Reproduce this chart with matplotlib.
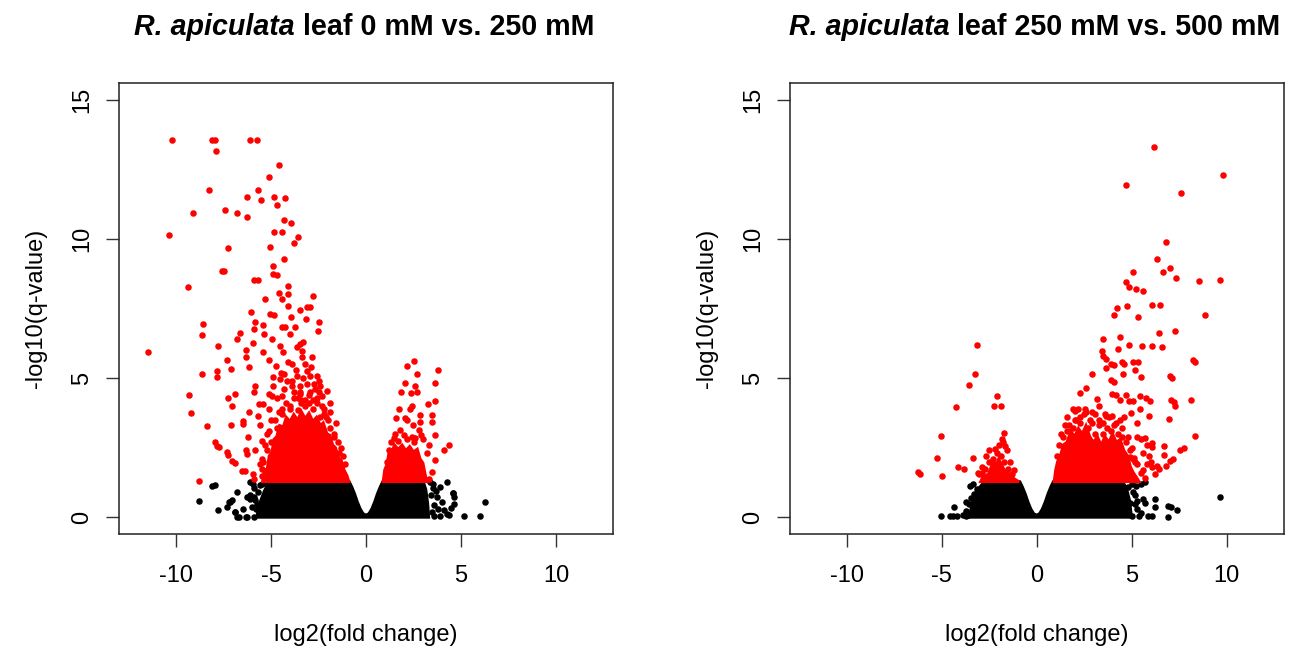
import matplotlib
matplotlib.use("Agg")
import matplotlib.pyplot as plt

plt.rcParams['font.family'] = ['Liberation Sans', 'DejaVu Sans']
plt.rcParams['axes.unicode_minus'] = False

RED = "#ff0000"
BLACK = "#000000"

# ---------------- panel 1: leaf 0 mM vs. 250 mM ----------------
# dense black cloud (non-significant), outline
p1_black_core_x = [-5.75, -5.6, -5.35, -5.1, -0.88, -0.75, -0.6, -0.45, -0.3, -0.15, 0.0,
                   0.15, 0.3, 0.45, 0.6, 0.75, 0.88, 3.02, 3.15, 3.25, 3.3]
p1_black_core_y = [0.0, 0.5, 0.95, 1.28, 1.28, 1.1, 0.85, 0.55, 0.3, 0.13, 0.08,
                   0.13, 0.3, 0.55, 0.85, 1.1, 1.28, 1.28, 1.0, 0.5, 0.0]
# dense red clouds (significant)
p1_red_core_l_x = [-5.45, -5.35, -5.2, -5.1, -4.95, -4.85, -4.7, -4.55, -4.35, -4.2, -4.0,
                   -3.8, -3.6, -3.4, -3.2, -3.0, -2.8, -2.6, -2.4, -2.25, -2.05, -1.9, -1.75,
                   -1.6, -1.45, -1.3, -1.15, -1.0, -0.9]
p1_red_core_l_y = [1.28, 1.6, 1.75, 2.2, 2.35, 2.8, 2.9, 3.3, 3.25, 3.6, 3.45,
                   3.7, 3.5, 3.8, 3.55, 3.75, 3.45, 3.6, 3.3, 3.4, 3.0, 2.95, 2.6,
                   2.5, 2.15, 2.05, 1.7, 1.5, 1.28]
p1_red_core_r_x = [0.9, 0.98, 1.1, 1.2, 1.35, 1.5, 1.7, 1.9, 2.1, 2.3, 2.5, 2.7, 2.85, 3.0,
                   3.1, 3.2]
p1_red_core_r_y = [1.28, 1.7, 1.9, 2.3, 2.35, 2.6, 2.45, 2.6, 2.4, 2.55, 2.35, 2.45, 2.1, 1.95,
                   1.6, 1.28]

p1_red_x = [-10.23, -8.12, -7.94, -6.10, -5.75, -7.87, -4.57, -5.13, -8.28, -5.68, -6.24, -5.52,
            -4.83, -4.27, -4.66, -7.40, -9.12, -6.80, -6.24, -4.29, -3.95, -10.37, -4.83, -4.43,
            -3.57, -3.81, -5.06, -7.24, -4.29, -4.90, -4.90, -4.69, -7.56, -7.47, -5.92, -5.66,
            -9.35, -4.08, -4.57, -4.08, -4.43, -2.79, -5.31, -4.11, -3.11, -2.93, -3.50, -6.06,
            -5.04, -4.83, -3.97, -3.15, -2.48, -5.83, -8.58, -5.40, -4.43, -4.25, -3.73, -5.92,
            -4.02, -6.63, -5.36, -2.55, -8.65, -6.80, -4.96, -3.46, -3.32, -5.96, -3.64, -7.80,
            -4.52, -11.46, -6.31, -6.31, -5.43, -4.38, -3.39, -3.39, -2.86, -7.33, -5.13, -4.08,
            -3.90, -4.73, -6.15, -7.08, -3.22, -7.86, -7.86, -8.65, -4.34, -3.11, -4.90, -3.64,
            -2.97, -2.58, -4.52, -4.17, -5.83, -4.87, -3.46, -2.41, -2.76, -2.93, -5.89, -5.13,
            -4.96, -4.43, -3.81, -3.46, -2.06, -9.30, -6.92, -7.24, -5.61, -5.43, -7.06, -5.13,
            -9.21, -6.15, -1.88, -5.66, -6.45, -6.49, -5.57, -7.10, -8.35, -6.19, -5.22, -7.94,
            -7.86, -7.73, -5.48, -6.34, -6.26, -5.83, -7.33, -7.24, -7.06, -6.89, -5.48, -5.40,
            -6.54, -6.36, -5.48, -5.31, -8.81, -5.96, -5.92,
            -3.6, -3.2, -2.6, -2.3, -4.0, -4.4, -2.0, -1.7, -1.5, -1.2, -5.2, -5.0, -4.7, -3.0,
            -2.5, -3.9, -1.9, -2.2, -1.4, -1.1, -5.5, -4.9, -3.4, -2.8,
            -4.8, -4.6, -4.4, -4.2, -4.0, -3.8, -3.6, -3.4, -3.2, -3.0, -2.8, -2.6, -2.4, -2.2,
            -4.7, -4.3, -3.9, -3.5, -3.1, -2.7, -2.3, -5.1, -5.3, -4.5, -3.7, -3.3, -2.9, -2.5,
            -2.1, -1.9, -1.7, -1.6, -1.3, -5.6, -5.0,
            2.16, 2.51, 3.79, 2.68, 2.05, 3.63, 2.56, 1.84, 2.37, 2.68, 3.61, 3.24, 2.42, 2.29,
            1.75, 2.86, 3.47, 1.59, 2.03, 2.16, 2.86, 3.47, 2.47, 1.81, 2.77, 3.61, 1.54, 1.45,
            1.98, 2.16, 2.42, 2.51, 4.35, 4.08, 3.61, 3.47, 3.33, 1.3, 1.2, 3.0, 3.2, 2.9, 3.3,
            1.1, 1.7, 2.6]
p1_red_y = [13.56, 13.56, 13.56, 13.56, 13.56, 13.14, 12.65, 12.22, 11.75, 11.75, 11.52, 11.41,
            11.52, 11.47, 11.20, 11.05, 10.93, 10.93, 10.78, 10.67, 10.57, 10.14, 10.24, 10.24,
            10.08, 9.87, 9.72, 9.66, 9.28, 9.03, 8.74, 8.71, 8.83, 8.86, 8.54, 8.54,
            8.28, 8.32, 8.07, 8.02, 7.84, 7.95, 7.84, 7.58, 7.54, 7.54, 7.43, 7.38,
            7.31, 7.25, 7.21, 7.13, 7.01, 7.01, 6.95, 6.89, 6.83, 6.83, 6.83, 6.77,
            6.59, 6.62, 6.59, 6.68, 6.56, 6.41, 6.41, 6.23, 6.31, 6.25, 6.11, 6.14,
            6.14, 5.93, 6.01, 5.75, 5.93, 5.93, 5.99, 5.75, 5.77, 5.66, 5.66, 5.57,
            5.51, 5.43, 5.39, 5.34, 5.51, 5.25, 5.03, 5.13, 5.15, 5.27, 5.03, 5.09,
            5.09, 5.09, 4.97, 4.91, 4.71, 4.73, 4.73, 4.73, 4.79, 4.49, 4.49, 4.43,
            4.37, 4.37, 4.49, 4.43, 4.55, 4.38, 4.43, 4.28, 4.07, 4.07, 4.01, 3.89,
            3.75, 3.77, 3.77, 3.65, 3.47, 3.35, 3.33, 3.33, 3.27, 2.87, 2.99, 2.69,
            2.57, 2.51, 2.75, 2.40, 2.28, 2.42, 2.34, 2.22, 2.04, 1.94, 2.10, 1.98,
            1.68, 1.68, 1.74, 1.68, 1.29, 1.56, 1.38,
            4.3, 4.2, 4.3, 4.0, 4.0, 3.9, 3.5, 3.0, 2.7, 2.2, 2.4, 2.7, 3.2, 4.1,
            4.5, 4.7, 4.1, 3.7, 2.3, 1.9, 1.5, 2.0, 4.1, 4.2,
            3.5, 3.8, 3.7, 4.1, 3.9, 4.3, 3.85, 4.2, 4.0, 4.4, 3.9, 4.1, 3.6, 3.9,
            4.3, 4.6, 4.9, 4.5, 4.8, 4.6, 4.35, 3.1, 2.6, 5.2, 5.3, 5.0, 5.4, 4.9,
            3.6, 3.2, 2.9, 3.4, 2.5, 1.9, 3.5,
            5.45, 5.60, 5.29, 5.13, 4.81, 4.81, 4.71, 4.49, 4.46, 4.49, 4.16, 4.08, 4.01, 3.90,
            3.90, 3.69, 3.69, 3.57, 3.57, 3.48, 3.44, 3.44, 3.32, 3.14, 3.12, 2.94, 3.00, 2.84,
            2.96, 2.82, 2.89, 2.71, 2.58, 2.40, 2.07, 1.62, 1.36, 2.7, 2.4, 2.8, 2.3, 2.95, 2.6,
            2.0, 2.75, 2.85]

p1_black_x = [-8.81, -7.80, -8.12, -7.94, -6.77, -7.33, -7.15, -6.92, -6.77, -6.27, -6.10, -5.89,
              -6.33, -5.92, -6.0, -5.74, -6.26, -5.56, -5.30, -6.09, -5.83, -7.05, -7.23, -6.71,
              -6.88, -5.9, -5.7, -5.5, -5.8, -5.65, -6.5, -6.1, -5.95,
              4.26, 3.91, 4.56, 4.61, 6.28, 5.17, 6.02, 4.26, 3.74, 3.56, 3.66, 4.58, 4.61, 4.35,
              3.5, 3.4, 3.45, 3.6, 3.8, 4.0, 4.1, 3.9, 3.55, 4.45, 3.35]
p1_black_y = [0.60, 0.28, 1.14, 1.17, 0.92, 0.36, 0.54, 0.18, 0.02, 0.72, 0.66, 0.72,
              0.02, 0.02, 0.37, 0.47, 0.01, 1.15, 1.27, 0.79, 0.61, 0.63, 0.55, 0.01,
              0.19, 1.05, 0.9, 1.2, 0.3, 0.15, 0.3, 1.25, 1.2,
              1.27, 1.09, 0.87, 0.49, 0.55, 0.04, 0.04, 0.11, 0.73, 0.43, 0.93, 0.87, 0.73, 0.07,
              1.2, 0.8, 0.2, 0.05, 0.3, 0.55, 0.25, 0.05, 1.05, 0.35, 1.25]

# ---------------- panel 2: leaf 250 mM vs. 500 mM ----------------
p2_black_core_x = [-3.55, -3.4, -3.1, -2.75, -0.88, -0.75, -0.6, -0.45, -0.3, -0.15, 0.0,
                   0.15, 0.3, 0.45, 0.6, 0.75, 0.88, 4.55, 4.75, 4.9, 5.0]
p2_black_core_y = [0.0, 0.5, 1.0, 1.28, 1.28, 1.1, 0.85, 0.55, 0.3, 0.13, 0.08,
                   0.13, 0.3, 0.55, 0.85, 1.1, 1.28, 1.28, 1.0, 0.6, 0.0]
p2_red_core_l_x = [-2.95, -2.8, -2.6, -2.4, -2.2, -2.0, -1.85, -1.7, -1.5, -1.3, -1.1, -0.92]
p2_red_core_l_y = [1.28, 1.5, 1.45, 1.8, 1.75, 2.1, 1.9, 1.7, 1.6, 1.45, 1.35, 1.28]
p2_red_core_r_x = [0.92, 1.0, 1.1, 1.25, 1.4, 1.6, 1.8, 2.0, 2.2, 2.4, 2.6, 2.8, 3.0, 3.2,
                   3.4, 3.6, 3.8, 4.0, 4.2, 4.4, 4.6, 4.8, 4.95, 5.1, 5.25, 5.4]
p2_red_core_r_y = [1.28, 1.7, 2.0, 2.2, 2.6, 2.7, 3.1, 2.9, 3.2, 3.0, 3.3, 2.9, 2.7, 2.9,
                   2.6, 2.9, 2.7, 3.0, 2.7, 2.8, 2.4, 2.2, 1.8, 1.6, 1.45, 1.28]

p2_red_x = [6.20, 9.79, 4.69, 7.61, 6.82, 6.33, 7.01, 6.67, 5.10, 7.34, 8.57, 9.64, 4.69, 4.86,
            5.22, 5.59, 6.10, 6.50, 4.76, 4.22, 4.09, 5.33, 8.85, 7.29, 6.44, 4.39, 3.47, -3.13,
            4.88, 5.56, 6.10, 6.59, 4.31, 3.43, 3.48, 3.67, 3.90, 4.09, 4.52, 4.61, 5.08, 5.33,
            8.23, 8.32, 3.67, 2.92, -3.26, 4.56, 5.18, 5.50, 7.01, 7.14, 3.90, 4.09, -3.58, 2.62,
            2.30, 3.95, 4.18, 4.69, -2.11, 3.20, 5.46, 5.78, 5.97, 4.41, 4.88, 5.07, 8.14, 7.06,
            7.23, 7.29, -2.26, -1.90, -4.22, 3.30, 5.44, 2.02, 2.54, 4.95, 5.91, 3.67, 3.99, 6.97,
            5.31, -5.01, -1.71, 8.32, 5.31, 5.50, 5.69, 6.10, 6.06, 6.69, 7.76, 7.57, -1.75,
            -1.66, -1.56, 6.72, 7.19, 7.01, -5.27, -3.33, -2.66, -2.32, 4.93, 5.12, 6.82, 6.44,
            6.35, -4.14, -3.80, -6.23, -6.14, -4.97, -3.01, 6.25, 5.69,
            1.9, 2.3, 2.8, 3.1, 3.5, 3.8, 4.2, 4.5, 4.8, 5.0, 5.2, 5.5, 5.8, 5.6, 1.3, 1.5, 1.6,
            2.0, -1.4, -1.2, -2.5, -2.9, -3.1, -2.0, 6.0, 4.6, 5.9, 2.6, 1.1, 3.3,
            1.2, 1.4, 1.7, 1.9, 2.1, 2.3, 2.5, 2.7, 2.9, 3.1, 3.3, 3.5, 3.7, 3.9, 4.1, 4.3, 4.5,
            4.7, 4.9, 5.1, 5.3, 2.2, 2.9, 3.6, 4.4, 1.6, 5.6, 5.8, 6.1,
            -2.9, -2.7, -2.5, -2.3, -2.1, -1.9, -1.7, -1.5, -1.3, -2.6, -2.2, -1.8]
p2_red_y = [13.29, 12.28, 11.95, 11.64, 9.88, 9.28, 8.96, 8.80, 8.80, 8.60, 8.49, 8.54, 8.44, 8.29,
            8.20, 8.12, 7.64, 7.64, 7.58, 7.52, 7.27, 7.21, 7.26, 6.68, 6.61, 6.47, 6.41, 6.19,
            6.19, 6.14, 6.14, 6.10, 6.04, 5.99, 5.81, 5.69, 5.51, 5.47, 5.57, 5.49, 5.57, 5.59,
            5.66, 5.59, 5.37, 5.13, 5.13, 5.13, 5.29, 5.05, 5.09, 5.01, 4.93, 4.85, 4.75, 4.65,
            4.47, 4.43, 4.40, 4.41, 4.34, 4.25, 4.35, 4.28, 4.17, 4.22, 4.17, 4.19, 4.23, 4.22,
            4.13, 4.01, 4.01, 4.01, 3.95, 4.01, 3.89, 3.83, 3.89, 3.74, 3.63, 3.63, 3.65, 3.53,
            3.39, 2.93, 3.02, 2.93, 2.87, 2.81, 2.85, 2.66, 2.54, 2.56, 2.48, 2.40, 2.69,
            2.57, 2.43, 2.25, 2.10, 2.04, 2.13, 2.13, 2.19, 2.10, 2.18, 2.12, 1.86, 1.74,
            1.86, 1.82, 1.74, 1.62, 1.56, 1.50, 1.56, 1.56, 1.40,
            3.9, 3.6, 3.5, 3.7, 3.4, 3.6, 3.4, 3.2, 2.9, 2.5, 2.0, 1.6, 1.9, 2.3, 3.0, 3.3, 3.6,
            3.5, 2.0, 1.7, 2.4, 1.8, 1.6, 2.6, 2.0, 3.6, 2.2, 3.8, 2.2, 3.5,
            2.6, 2.9, 3.3, 3.2, 3.5, 3.4, 3.7, 3.2, 3.4, 3.0, 3.3, 3.0, 3.2, 3.1, 3.3, 3.0, 2.9,
            2.7, 2.4, 2.1, 1.9, 3.9, 3.8, 3.7, 3.5, 3.1, 1.7, 2.6, 1.8,
            1.6, 1.75, 2.0, 1.9, 2.3, 2.2, 2.0, 1.75, 1.55, 1.5, 2.45, 2.8]

p2_black_x = [9.64, -5.05, -4.58, -4.39, -4.20, -4.35, -3.73, -3.58, -3.73, -3.35, -3.50, -3.16,
              -3.30, 6.25, 6.25, 6.91, 7.10, 7.38, 6.91, 6.06, 5.88, 5.40, 5.03, 5.59, 5.69,
              5.18, 5.31, 5.69, 5.50, 5.22, 5.0, 5.1, 5.3, 5.5, 4.9, -3.6, -3.7, -3.45, -3.25,
              -3.9, 4.8, 5.2]
p2_black_y = [0.72, 0.04, 0.04, 0.04, 0.04, 0.38, 0.54, 0.48, 0.24, 1.20, 1.14, 1.02,
              0.84, 0.66, 0.36, 0.42, 0.36, 0.28, 0.0, 0.06, 0.04, 0.04, 0.04, 0.66, 0.50,
              0.48, 0.60, 1.25, 1.20, 1.14, 1.2, 0.9, 0.3, 0.15, 0.5, 0.1, 0.05, 0.7, 0.6,
              0.1, 1.1, 0.8]

panels = [
    ("leaf 0 mM vs. 250 mM", p1_black_core_x, p1_black_core_y,
     [(p1_red_core_l_x, p1_red_core_l_y), (p1_red_core_r_x, p1_red_core_r_y)],
     p1_black_x, p1_black_y, p1_red_x, p1_red_y),
    ("leaf 250 mM vs. 500 mM", p2_black_core_x, p2_black_core_y,
     [(p2_red_core_l_x, p2_red_core_l_y), (p2_red_core_r_x, p2_red_core_r_y)],
     p2_black_x, p2_black_y, p2_red_x, p2_red_y),
]

W, H = 1292, 652
fig = plt.figure(figsize=(W / 100, H / 100), dpi=100)
boxes = [(119, 534, 613, 83), (789.7, 534, 1283.5, 83)]

for (title, bcx, bcy, red_cores, bx, by, rx, ry), (x0, y0, x1, y1) in zip(panels, boxes):
    ax = fig.add_axes([x0 / W, 1 - y0 / H, (x1 - x0) / W, (y0 - y1) / H])

    ax.fill(bcx, bcy, color=BLACK, lw=2, zorder=2)
    ax.scatter(bx, by, s=22, color=BLACK, linewidths=0, zorder=2)
    for cx, cy in red_cores:
        ax.fill(cx, cy, color=RED, lw=2, zorder=3)
    ax.scatter(rx, ry, s=22, color=RED, linewidths=0, zorder=3)

    ax.set_xlim(-13, 13)
    ax.set_ylim(-0.6, 15.6)
    ax.set_xticks([-10, -5, 0, 5, 10])
    ax.set_yticks([0, 5, 10, 15])
    ax.tick_params(direction='out', length=9.5, width=1, labelsize=17, color='#333333')
    ax.tick_params(axis='x', pad=13)
    ax.tick_params(axis='y', pad=9)
    for lab in ax.get_yticklabels():
        lab.set_rotation(90)
        lab.set_va('center')
    for sp in ax.spines.values():
        sp.set_linewidth(1.1)
        sp.set_color('#222222')

    ax.text(0.5, (534 - 635) / 451, "log2(fold change)", transform=ax.transAxes,
            ha='center', va='center', fontsize=17)
    ax.text((36 - 119) / 494, 0.5, "-log10(q-value)", transform=ax.transAxes,
            ha='center', va='center', rotation=90, fontsize=17)

    # title: italic species name followed by bold rest
    cx_px = (x0 + x1) / 2 - 2
    ty = 1 - 27 / H
    t1 = fig.text(0, ty, "R. apiculata", fontsize=20.6, weight='bold', style='italic',
                  ha='left', va='center')
    t2 = fig.text(0, ty, " " + title, fontsize=20.6, weight='bold', ha='left', va='center')
    r = fig.canvas.get_renderer()
    w1 = t1.get_window_extent(r).width
    w2 = t2.get_window_extent(r).width
    start = cx_px - (w1 + w2) / 2
    t1.set_x(start / W)
    t2.set_x((start + w1) / W)

fig.savefig("out.png", dpi=100)
